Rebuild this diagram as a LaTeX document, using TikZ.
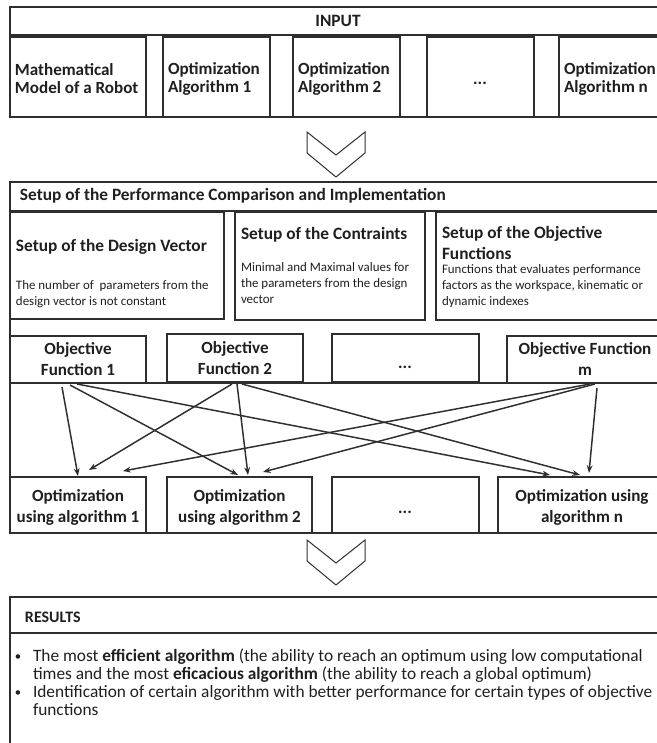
\documentclass[tikz,border=0pt]{standalone}
\usepackage{fontspec}
\setmainfont{Carlito}
\usetikzlibrary{calc,arrows.meta}
\definecolor{ln}{HTML}{2E2E2E}
\definecolor{tx}{HTML}{1F1F1F}
\newcommand\resbul{{\fontsize{9.5}{9.5}\selectfont\raisebox{0.6pt}{•}}}
\begin{document}
\begin{tikzpicture}[x=0.75pt,y=-0.75pt,
  box/.style={draw=ln, line width=1pt, rectangle, inner sep=0pt, outer sep=0pt, anchor=north west},
  divider/.style={draw=ln, line width=1pt},
  chev/.style={draw=ln, line width=0.75pt, line join=miter},
  arr/.style={draw=ln, line width=1.1pt, -{Stealth[length=5.8pt,width=4.4pt]}},
  txt/.style={text=tx, inner sep=0pt, outer sep=0pt},
  hd/.style={txt, font=\fontsize{13}{15.75}\selectfont\bfseries},
  bxa/.style={txt, font=\fontsize{12.8}{13.5}\selectfont\bfseries},
  bxb/.style={txt, font=\fontsize{12.8}{15.75}\selectfont\bfseries, align=center},
  sm/.style={txt, font=\fontsize{9.7}{11.7}\selectfont, align=left},
  rs/.style={txt, font=\fontsize{13}{13.5}\selectfont},
  rl/.style={txt, font=\fontsize{12}{14}\selectfont\bfseries}
]
\useasboundingbox (0,0) rectangle (657,743);
\clip (0,0) rectangle (657,743);

% ---------------- INPUT ----------------
\node[box, minimum width=502.5pt, minimum height=82.5pt] (inp) at (10,7) {};
\draw[divider] (10,35) -- (680,35);
\node[hd] (inplbl) at (338,21) {INPUT};
\node[box, minimum width=102pt, minimum height=60pt] (in1) at (10,37) {};
\node[box, minimum width=80.25pt, minimum height=60pt] (in2) at (163,37) {};
\node[box, minimum width=80.25pt, minimum height=60pt] (in3) at (293,37) {};
\node[box, minimum width=80.25pt, minimum height=60pt] (in4) at (427,37) {};
\node[box, minimum width=90.75pt, minimum height=60pt] (in5) at (559,37) {};
\node[bxa, anchor=west, align=left] (tin1) at (15,79) {Mathematical\\Model of a Robot};
\node[bxa, anchor=west, align=left] (tin2) at (168,79) {Optimization\\Algorithm 1};
\node[bxa, anchor=west, align=left] (tin3) at (298,79) {Optimization\\Algorithm 2};
\node[bxa, anchor=base] (tin4) at (480,84) {...};
\node[bxa, anchor=west, align=left] (tin5) at (564,79) {Optimization\\Algorithm n};

% chevron 1
\draw[chev] (307,132) -- (336,155) -- (365,132) -- (365,153) -- (336,177) -- (307,153) -- cycle;

% ---------------- SETUP ----------------
\node[box, minimum width=502.5pt, minimum height=263.25pt] (setup) at (10,182) {};
\draw[divider] (10,211) -- (680,211);
\node[hd, anchor=west] (setuplbl) at (20,196) {Setup of the Performance Comparison and Implementation};

\node[box, minimum width=160.5pt, minimum height=80.25pt] (dv) at (10,212) {};
\node[box, minimum width=142.5pt, minimum height=81pt] (con) at (235,212) {};
\node[box, minimum width=183pt, minimum height=81pt] (obj) at (436,212) {};

\node[hd, anchor=west] (dvt) at (16,247) {Setup of the Design Vector};
\node[sm, anchor=west, font=\fontsize{9.7}{12}\selectfont] (dvb) at (16,294) {The number of\ \ parameters from the\\design vector is not constant};
\node[hd, anchor=west] (cont) at (241,235) {Setup of the Contraints};
\node[sm, anchor=west] (conb) at (241,283) {Minimal and Maximal values for\\the parameters from the design\\vector};
\node[hd, anchor=west, align=left] (objt) at (442,242.5) {Setup of the Objective\\Functions};
\node[sm, anchor=west] (objb) at (442,286) {Functions that evaluates performance\\factors as the workspace, kinematic or\\dynamic indexes};

% objective functions row
\draw[divider] (10,383) -- (680,383);
\node[box, minimum width=102pt, minimum height=35.25pt] (of1) at (10,336) {};
\node[box, minimum width=102pt, minimum height=36pt] (of2) at (167,334) {};
\node[box, minimum width=110.25pt, minimum height=36pt] (of3) at (332,334) {};
\node[box, minimum width=117pt, minimum height=35.25pt] (ofm) at (507,336) {};
\node[bxb] (tof1) at (78,359) {Objective\\Function 1};
\node[bxb] (tof2) at (235,358) {Objective\\Function 2};
\node[bxa, anchor=base] (tof3) at (405,368) {...};
\node[bxb] (tofm) at (585,359) {Objective Function\\m};

% optimization row
\node[box, minimum width=102pt, minimum height=42pt] (op1) at (10,477) {};
\node[box, minimum width=108.75pt, minimum height=42pt] (op2) at (167,477) {};
\node[box, minimum width=110.25pt, minimum height=42pt] (op3) at (332,477) {};
\node[box, minimum width=126pt, minimum height=42pt] (opn) at (498,477) {};
\node[bxb] (top1) at (78,507) {Optimization\\using algorithm 1};
\node[bxb] (top2) at (239.5,507) {Optimization\\using algorithm 2};
\node[bxa, anchor=base] (top3) at (405,513) {...};
\node[bxb] (topn) at (582,507) {Optimization using\\algorithm n};

% connectors
\draw[arr] ($(of1.south west)+(52,4)$) -- ($(op1.north west)+(68,-1)$);
\draw[arr] ($(of1.south west)+(60,2)$) -- ($(op2.north west)+(71,-2)$);
\draw[arr] ($(of1.south west)+(67,1)$) -- ($(opn.north west)+(52,-2)$);
\draw[arr] ($(of2.south west)+(65,2)$) -- ($(op1.north west)+(79,-7)$);
\draw[arr] ($(of2.south west)+(70,2)$) -- ($(op2.north west)+(81,-2)$);
\draw[arr] ($(of2.south west)+(75,2)$) -- ($(opn.north west)+(82,-2)$);
\draw[arr] ($(ofm.south west)+(83,1)$) -- ($(op1.north west)+(113,-6)$);
\draw[arr] ($(ofm.south west)+(88,1)$) -- ($(op2.north west)+(96,-5)$);
\draw[arr] ($(ofm.south west)+(90,5)$) -- ($(opn.north west)+(91,-4)$);

% chevron 2
\draw[chev] (307,540) -- (336,563) -- (365,540) -- (365,561) -- (336,585) -- (307,561) -- cycle;

% ---------------- RESULTS ----------------
\node[box, minimum width=502.5pt, minimum height=122.25pt] (res) at (10,597) {};
\draw[divider] (10,633) -- (680,633);
\node[rl, anchor=west] (reslbl) at (25,617) {RESULTS};
\node[rs, anchor=west] (resbody) at (15,685) {\begin{tabular}{@{}p{13.5pt}@{}l@{}}
\resbul & The most \textbf{efficient algorithm} (the ability to reach an optimum using low computational\\
  & times and the most \textbf{eficacious algorithm} (the ability to reach a global optimum)\\
\resbul & Identification of certain algorithm with better performance for certain types of objective\\
  & functions
\end{tabular}};
\end{tikzpicture}
\end{document}
